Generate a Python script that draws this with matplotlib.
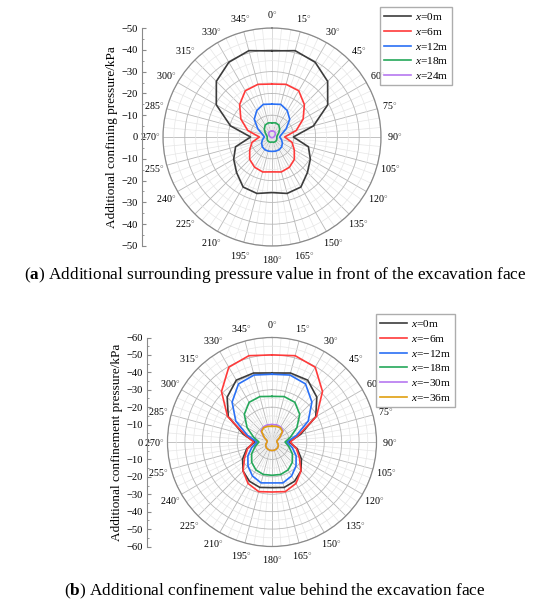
import numpy as np
import matplotlib.pyplot as plt
import matplotlib as mpl
from matplotlib.ticker import MultipleLocator, FuncFormatter

mpl.rcParams['font.family'] = ['Liberation Serif', 'DejaVu Serif']
mpl.rcParams['mathtext.fontset'] = 'custom'
mpl.rcParams['mathtext.rm'] = 'Liberation Serif'
mpl.rcParams['mathtext.it'] = 'Liberation Serif:italic'
mpl.rcParams['mathtext.bf'] = 'Liberation Serif:bold'

# angles of the right half (deg), the left half mirrors it
angles = [0, 15, 30, 45, 60, 75, 90, 105, 120, 135, 150, 165, 180]

# (a) in front of the face, |pressure| in kPa
a_labels = ['$x$=0m', '$x$=6m', '$x$=12m', '$x$=18m', '$x$=24m']
a_x0 = [39.5, 41.0, 39.6, 36.1, 29.5, 19.7, 9.8, 17.3, 20.3, 23.0, 26.5, 26.8, 25.5]
a_x6 = [24.3, 25.0, 24.5, 21.0, 16.5, 11.5, 5.8, 9.5, 11.8, 14.5, 16.0, 16.6, 16.0]
a_x12 = [15.1, 15.5, 14.0, 11.5, 7.5, 4.5, 3.5, 4.5, 5.5, 6.3, 6.7, 6.7, 6.6]
a_x18 = [6.5, 6.7, 6.3, 5.0, 3.5, 2.5, 2.2, 2.3, 2.5, 2.6, 2.6, 2.5, 2.3]
a_x24 = [2.7, 2.8, 2.6, 2.2, 1.6, 1.1, 0.8, 0.6, 0.5, 0.4, 0.3, 0.3, 0.3]

# (b) behind the face
b_labels = ['$x$=0m', '$x$=\u22126m', '$x$=\u221212m', '$x$=\u221218m',
            '$x$=\u221230m', '$x$=\u221236m']
b_x0 = [39.6, 41.0, 41.0, 36.4, 29.0, 17.0, 9.8, 15.0, 19.5, 23.5, 26.0, 27.0, 26.2]
b_x6 = [50.0, 51.3, 49.6, 41.0, 29.5, 16.0, 10.5, 14.5, 18.2, 23.5, 27.5, 29.5, 28.7]
b_x12 = [38.9, 39.8, 38.5, 32.4, 24.0, 14.5, 8.5, 12.0, 16.0, 19.5, 22.5, 24.3, 23.5]
b_x18 = [26.2, 27.0, 26.3, 22.5, 16.5, 11.0, 7.5, 10.0, 13.5, 16.5, 18.5, 19.3, 19.1]
b_x30 = [10.0, 10.2, 10.0, 9.0, 5.2, 3.0, 2.8, 3.5, 4.2, 4.6, 4.8, 4.9, 4.9]
b_x36 = [9.0, 9.3, 9.5, 8.5, 5.0, 3.0, 2.8, 3.5, 4.2, 4.6, 4.8, 4.9, 4.9]

colors_a = ['#3c3c3c', '#ff3a3a', '#2a70f5', '#25a85a', '#b678f0']
colors_b = ['#3c3c3c', '#ff3a3a', '#2a70f5', '#25a85a', '#b678f0', '#e0a010']

W, H = 550, 609
fig = plt.figure(figsize=(W / 100, H / 100), dpi=100)


def full_curve(r):
    th = np.deg2rad(angles + [360 - a for a in angles[-2::-1]])
    return th, r + r[-2::-1]


def polar_panel(cx, cy, rad, rmax, series, labels, colors, spine_x, ylabel, leg_box):
    ax = fig.add_axes([(cx - rad) / W, (H - cy - rad) / H, 2 * rad / W, 2 * rad / H],
                      projection='polar')
    ax.set_theta_zero_location('N')
    ax.set_theta_direction(-1)
    ax.set_ylim(0, rmax)
    ax.set_yticks(np.arange(10, rmax + 1, 10))
    ax.set_yticklabels([])
    ax.yaxis.set_minor_locator(MultipleLocator(5))
    ax.set_thetagrids(range(0, 360, 15), [f'{a}$^{{\\circ}}$' for a in range(0, 360, 15)],
                      fontsize=7.2)
    ax.xaxis.set_minor_locator(MultipleLocator(np.deg2rad(5)))
    ax.tick_params(axis='x', pad=-1)
    ax.grid(which='major', color='#b8b8b8', lw=0.6)
    ax.grid(which='minor', color='#e6e6e6', lw=0.5)
    ax.spines['polar'].set_color('#8a8a8a')
    ax.spines['polar'].set_linewidth(0.9)
    lines = []
    for r, lab, c in zip(series, labels, colors):
        th, rr = full_curve(r)
        ln, = ax.plot(th, rr, color=c, lw=1.2, label=lab)
        lines.append(ln)

    # separate radial scale on the left
    sax = fig.add_axes([spine_x / W, (H - cy - rad) / H, 0.001, 2 * rad / H])
    sax.set_ylim(-rmax, rmax)
    sax.set_xticks([])
    for s in ['top', 'right', 'bottom']:
        sax.spines[s].set_visible(False)
    sax.spines['left'].set_color('#8a8a8a')
    sax.yaxis.set_major_locator(MultipleLocator(10))
    sax.yaxis.set_minor_locator(MultipleLocator(5))
    sax.yaxis.set_major_formatter(FuncFormatter(
        lambda v, p: '0' if abs(v) < 1e-9 else f'\u2212{abs(v):.0f}'))
    sax.tick_params(axis='y', which='major', direction='in', length=3, labelsize=7.6,
                    color='#8a8a8a', pad=2.5)
    sax.tick_params(axis='y', which='minor', direction='in', length=1.5, color='#8a8a8a')
    sax.set_ylabel(ylabel, fontsize=9.5, labelpad=3)

    fig.legend(handles=lines, loc='upper left',
               bbox_to_anchor=(leg_box[0] / W, 1 - leg_box[1] / H),
               fontsize=8.2, frameon=True, fancybox=False, edgecolor='#999999',
               handlelength=2.4, handletextpad=0.3, borderpad=0.35, labelspacing=0.33,
               borderaxespad=0)
    return ax


polar_panel(272, 137, 109, 50, [a_x0, a_x6, a_x12, a_x18, a_x24], a_labels, colors_a,
            141.7, 'Additional confining pressure/kPa', (380, 7))
polar_panel(272, 442, 104.5, 60, [b_x0, b_x6, b_x12, b_x18, b_x30, b_x36], b_labels,
            colors_b, 146.7, 'Additional confinement pressure/kPa', (376, 314))

fig.text(275 / W, 1 - 275 / H,
         '($\\mathbf{a}$) Additional surrounding pressure value in front of the excavation face',
         ha='center', va='center', fontsize=12.4)
fig.text(275 / W, 1 - 591 / H,
         '($\\mathbf{b}$) Additional confinement value behind the excavation face',
         ha='center', va='center', fontsize=12.4)

fig.savefig('out.png', dpi=100)
